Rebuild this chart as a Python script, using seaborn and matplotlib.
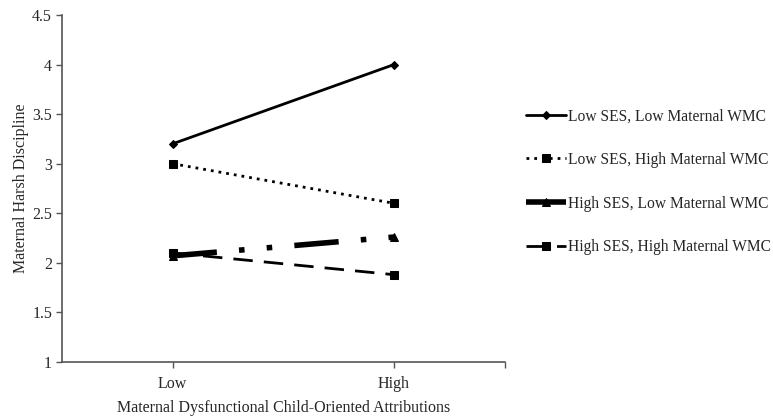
import matplotlib
matplotlib.use("Agg")
import matplotlib.pyplot as plt
import seaborn as sns
import pandas as pd

categories = ["Low", "High"]
series_names = ["Low SES, Low Maternal WMC", "Low SES, High Maternal WMC",
                "High SES, Low Maternal WMC", "High SES, High Maternal WMC"]
s1 = [3.2, 4.0]
s2 = [3.0, 2.6]
s3 = [2.07, 2.26]
s4 = [2.1, 1.88]
yticks = [1, 1.5, 2, 2.5, 3, 3.5, 4, 4.5]

sns.set_theme(style="white")
plt.rcParams['font.family'] = ['Liberation Serif', 'DejaVu Serif']

fig = plt.figure(figsize=(7.73, 4.16), dpi=100)
ax = fig.add_axes([0.080, 0.130, 0.573, 0.834])

styles = [
    dict(ls="-", lw=2.0, marker="D", ms=4),
    dict(ls=(0, (1, 1.8)), lw=2.0, marker="s", ms=6),
    dict(ls=(0, (8, 4, 1, 4, 1, 4)), lw=4.0, marker="^", ms=6),
    dict(ls=(0, (7, 4)), lw=2.0, marker="s", ms=6),
]
handles = []
for name, vals, st in zip(series_names, [s1, s2, s3, s4], styles):
    df = pd.DataFrame({"x": categories, "y": vals})
    sns.lineplot(data=df, x="x", y="y", ax=ax, color="black",
                 linestyle=st["ls"], linewidth=st["lw"], marker=st["marker"],
                 markersize=st["ms"], markeredgecolor="black", legend=False)
    handles.append(ax.lines[-1])

ax.set_xlim(-0.5, 1.5)
ax.set_ylim(1, 4.5)
ax.set_yticks(yticks)
ax.set_yticklabels([f"{t:g}" for t in yticks], fontsize=11.5)
ax.set_xticks([0, 1, 1.5])
ax.set_xticklabels(["Low", "High", ""], fontsize=11.5)
for s in ["top", "right"]:
    ax.spines[s].set_visible(False)
for s in ["left", "bottom"]:
    ax.spines[s].set_color("#555555")
    ax.spines[s].set_linewidth(1.2)
ax.tick_params(axis="both", direction="out", length=4, width=1, color="#555555",
               left=True, bottom=True)
ax.tick_params(axis="x", pad=6)
ax.tick_params(axis="y", pad=3)
ax.set_xlabel("Maternal Dysfunctional Child-Oriented Attributions", fontsize=11.5, labelpad=6)
ax.set_ylabel("Maternal Harsh Discipline", fontsize=11.5, labelpad=2)

fig.legend(handles, series_names, loc="upper left", bbox_to_anchor=(0.672, 0.755),
           frameon=False, fontsize=11.2, handlelength=2.6, handletextpad=0.1,
           labelspacing=1.78, borderaxespad=0)

fig.savefig("out.png", dpi=100)
